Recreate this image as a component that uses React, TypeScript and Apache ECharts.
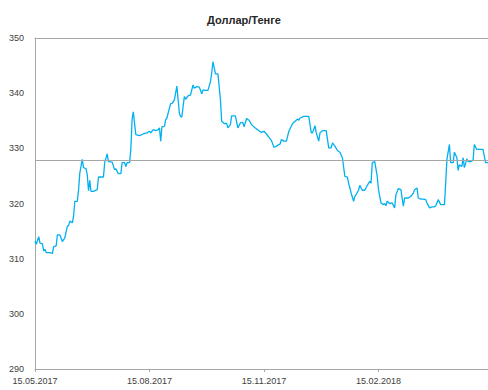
import React, { useEffect, useRef } from "react";
import * as echarts from "echarts";

const TITLE = "Доллар/Тенге";
// Day 0 = 15.05.2017
const START_UTC = Date.UTC(2017, 4, 15);
const LAST_DAY = 364;
const TICK_STEP_DAYS = 92;
const Y_MIN = 290;
const Y_MAX = 350;
const Y_STEP = 10;
const AVERAGE_RATE = 327.9;

const daysFromStart = [
  0, 1, 3, 4, 6, 7, 8, 9, 12, 14, 15, 17, 18, 20, 22, 24, 26, 27, 28, 30,
  31, 32, 34, 35, 36, 38, 39, 41, 42, 43, 44, 45, 47, 50, 51, 55, 56, 58, 59, 62,
  64, 65, 67, 69, 70, 72, 73, 74, 76, 77, 78, 79, 81, 84, 87, 90, 92, 93, 95, 97,
  99, 100, 101, 102, 104, 105, 106, 107, 109, 110, 112, 113, 114, 116, 117, 118, 120, 121, 123, 125,
  127, 128, 130, 132, 134, 135, 137, 139, 141, 142, 143, 145, 147, 149, 150, 152, 154, 155, 157, 158,
  161, 163, 165, 167, 168, 170, 172, 174, 177, 180, 182, 184, 186, 188, 190, 192, 194, 197, 198, 200,
  202, 204, 207, 209, 211, 212, 213, 216, 220, 222, 223, 225, 226, 228, 229, 231, 234, 236, 238, 239,
  241, 243, 245, 247, 249, 251, 252, 254, 256, 257, 258, 260, 261, 263, 265, 267, 269, 270, 271, 273,
  275, 276, 278, 280, 281, 282, 283, 285, 287, 289, 290, 292, 294, 296, 297, 300, 302, 304, 305, 307,
  308, 310, 312, 314, 315, 317, 319, 321, 322, 324, 326, 329, 330, 331, 333, 334, 336, 337, 339, 340,
  341, 343, 344, 345, 347, 348, 350, 352, 353, 355, 358, 360, 362, 364,
];

const usdKztRates = [
  313.2, 312.6, 314.0, 312.8, 312.7, 311.4, 311.7, 311.1, 311.1, 310.95, 312.2, 312.3, 314.3, 314.3, 313.1, 313.8, 315.9, 316.0, 316.8, 316.5,
  317.7, 320.4, 320.4, 322.5, 325.5, 328.0, 326.5, 326.3, 325.2, 322.3, 324.2, 322.2, 322.2, 322.5, 324.8, 324.8, 327.4, 329.0, 327.6, 327.5,
  326.1, 326.3, 325.4, 325.4, 327.4, 327.4, 326.7, 327.4, 327.4, 329.8, 335.2, 336.6, 332.5, 332.3, 332.6, 332.8, 333.1, 332.8, 333.4, 333.2,
  333.4, 333.7, 331.3, 333.9, 334.0, 335.2, 335.5, 336.4, 338.1, 338.1, 338.8, 340.0, 341.3, 336.4, 335.7, 335.7, 339.4, 338.9, 339.5, 339.7,
  341.5, 340.9, 341.2, 341.1, 339.9, 340.6, 340.5, 340.5, 342.1, 343.7, 345.7, 343.5, 343.5, 338.8, 334.9, 334.5, 334.5, 333.7, 334.3, 335.9,
  335.9, 333.7, 334.6, 334.7, 333.9, 335.4, 335.1, 334.3, 333.7, 333.2, 332.9, 333.1, 332.6, 332.0, 331.4, 330.2, 330.4, 330.8, 331.6, 331.3,
  331.3, 333.1, 334.5, 334.9, 335.3, 335.1, 335.5, 335.8, 335.8, 332.8, 332.8, 334.1, 332.8, 331.3, 332.8, 333.2, 333.2, 330.1, 330.1, 331.0,
  330.4, 329.6, 329.3, 328.3, 324.9, 324.8, 323.7, 321.9, 320.4, 321.3, 321.6, 322.4, 323.3, 322.4, 322.4, 323.3, 324.0, 323.7, 327.4, 327.6,
  324.9, 322.5, 320.1, 319.8, 320.0, 319.6, 320.4, 320.0, 320.1, 319.2, 321.6, 322.7, 322.5, 319.5, 321.0, 321.0, 321.3, 321.9, 322.5, 322.8,
  321.0, 320.8, 320.8, 320.7, 320.1, 319.2, 319.4, 319.4, 319.6, 320.7, 319.8, 319.8, 323.7, 328.0, 330.7, 327.4, 327.4, 329.3, 328.3, 326.0,
  327.0, 326.7, 328.3, 326.5, 328.1, 327.6, 327.6, 327.8, 330.7, 329.8, 329.8, 329.8, 327.4, 327.4,
];

function formatDay(day: number): string {
  const d = new Date(START_UTC + day * 86400000);
  const dd = String(d.getUTCDate()).padStart(2, "0");
  const mm = String(d.getUTCMonth() + 1).padStart(2, "0");
  return `${dd}.${mm}.${d.getUTCFullYear()}`;
}

export default function App() {
  const ref = useRef<HTMLDivElement>(null);
  useEffect(() => {
    if (!ref.current) return;
    const chart = echarts.init(ref.current, undefined, { renderer: "svg" });
    const data = daysFromStart.map((d, i) => [d, usdKztRates[i]]);
    const font = "Liberation Sans";
    const axisGray = "#A6A6A6";
    chart.setOption({
      animation: false,
      backgroundColor: "#ffffff",
      title: {
        text: TITLE,
        left: "center",
        top: 9,
        textStyle: { fontFamily: font, fontSize: 11, fontWeight: "bold", color: "#262626" },
      },
      grid: { left: 35, right: 0, top: 38, bottom: 21, containLabel: false },
      xAxis: [
        {
          type: "value",
          min: 0,
          max: LAST_DAY,
          interval: TICK_STEP_DAYS,
          axisLine: { show: true, lineStyle: { color: axisGray, width: 1 } },
          axisTick: { show: true, length: 3, lineStyle: { color: axisGray } },
          splitLine: { show: false },
          axisLabel: {
            showMaxLabel: false,
            margin: 7,
            fontFamily: font,
            fontSize: 9,
            color: "#404040",
            formatter: (v: number) => formatDay(v),
          },
        },
        {
          type: "value",
          position: "top",
          min: 0,
          max: LAST_DAY,
          axisLine: { show: true, lineStyle: { color: axisGray, width: 1 } },
          axisTick: { show: false },
          axisLabel: { show: false },
          splitLine: { show: false },
        },
      ],
      yAxis: {
        type: "value",
        min: Y_MIN,
        max: Y_MAX,
        interval: Y_STEP,
        axisLine: { show: true, lineStyle: { color: axisGray, width: 1 } },
        axisTick: { show: false },
        splitLine: { show: false },
        axisLabel: { margin: 11, fontFamily: font, fontSize: 9, color: "#404040" },
      },
      series: [
        {
          type: "line",
          data: [],
          xAxisIndex: 0,
          z: 1,
          symbol: "none",
          markLine: {
            silent: true,
            symbol: "none",
            label: { show: false },
            lineStyle: { color: "#A6A6A6", width: 1, type: "solid" },
            data: [{ yAxis: AVERAGE_RATE }],
          },
        },
        {
          type: "line",
          data,
          xAxisIndex: 0,
          z: 3,
          symbol: "none",
          lineStyle: { color: "#00B0F0", width: 1.3 },
        },
      ],
    });
    return () => chart.dispose();
  }, []);
  return (
    <div
      ref={ref}
      style={{ position: "fixed", left: 0, top: 0, width: 488, height: 390, background: "#fff" }}
    />
  );
}
